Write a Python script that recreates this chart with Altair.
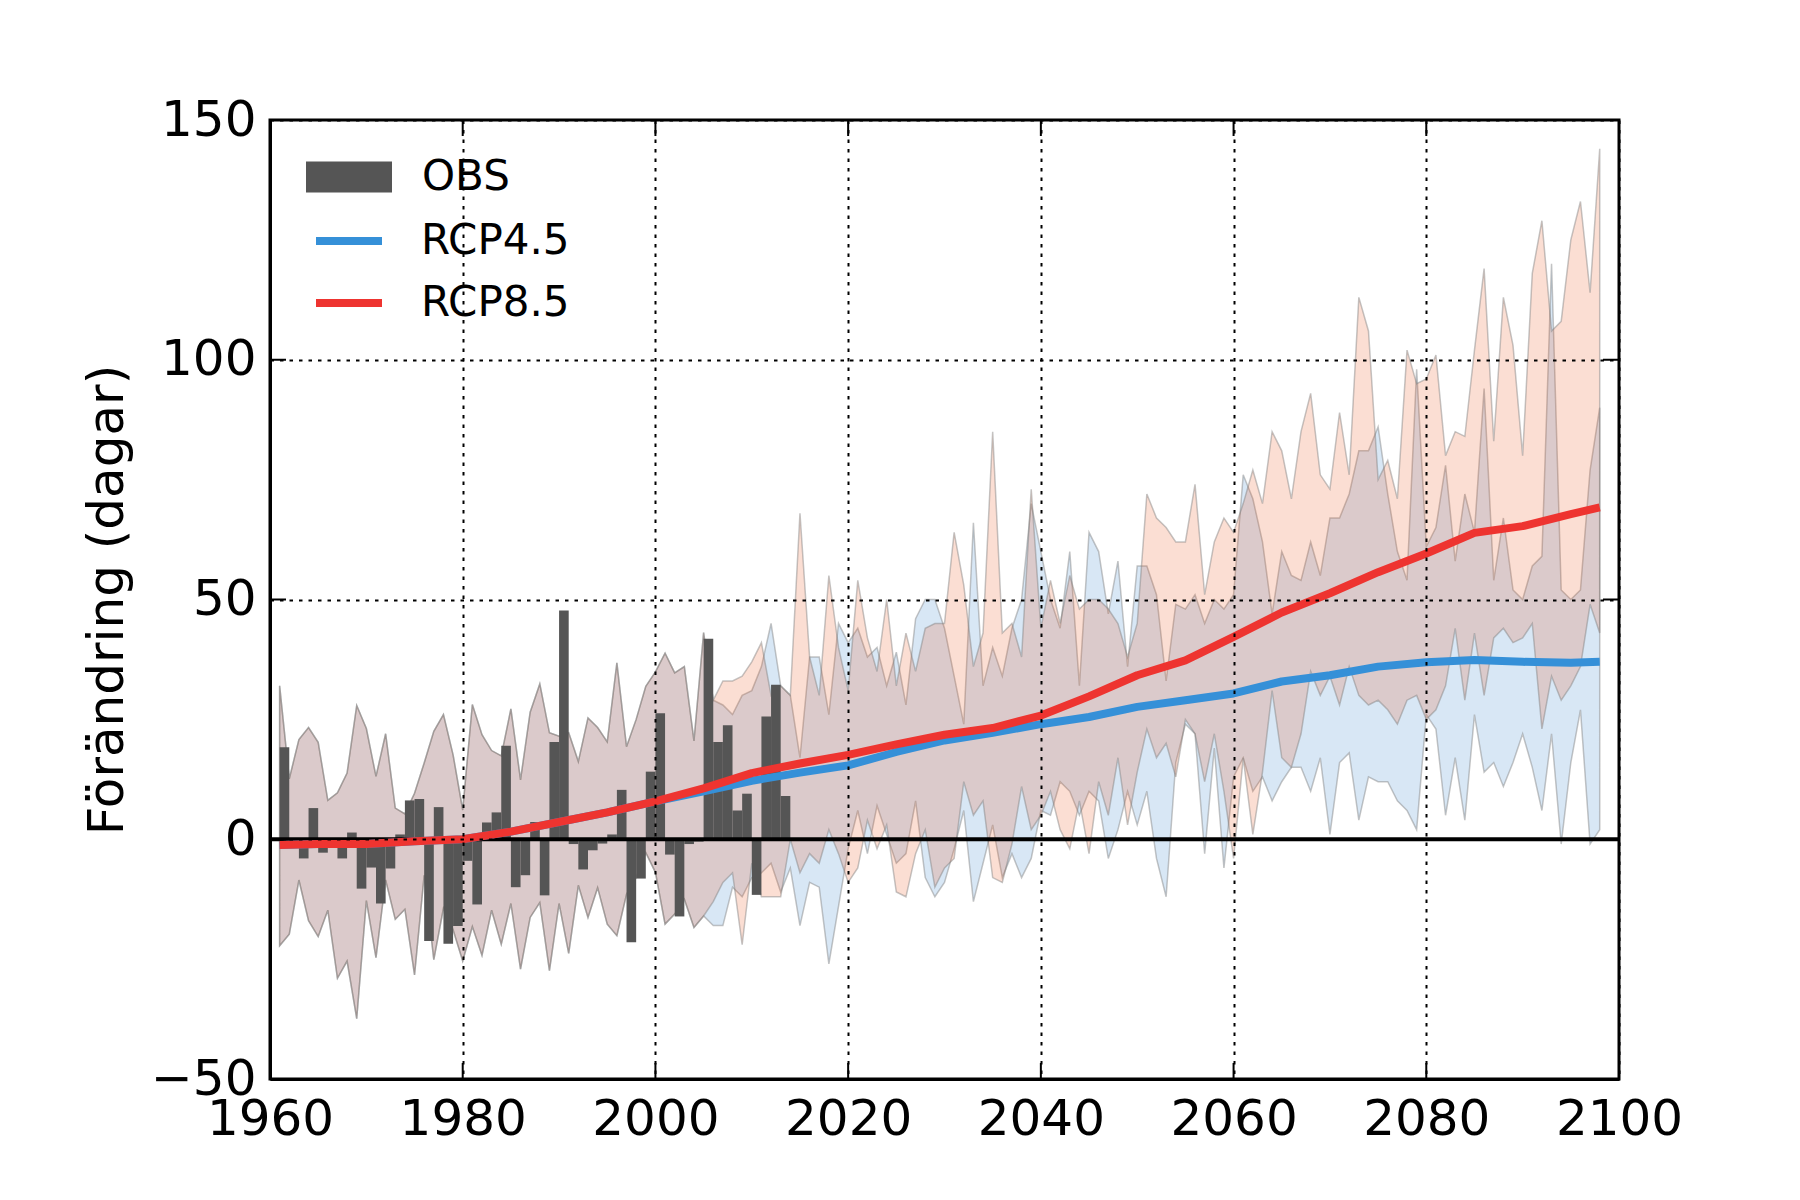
import altair as alt
import pandas as pd

# ---------------- data ----------------
obs_years = list(range(1961, 2014))
obs_vals = [19.2, -1.0, -4.0, 6.5, -2.8, -0.5, -4.0, 1.4, -10.3, -5.9,
            -13.4, -6.1, 1.0, 8.1, 8.4, -21.2, 6.7, -21.8, -18.1, -4.5,
            -13.6, 3.5, 5.6, 19.5, -10.0, -7.5, 3.6, -11.7, 20.3, 47.7,
            -1.0, -6.3, -2.3, -0.9, 1.0, 10.3, -21.5, -8.2, 14.1, 26.3,
            -3.2, -16.1, -1.0, -0.5, 41.8, 20.3, 23.8, 6.0, 9.5, -11.6,
            25.6, 32.2, 9.0]

hist_years = list(range(1961, 2006))
hist_hi = [32.0, 12.6, 20.8, 23.3, 20.2, 8.1, 9.7, 13.8, 27.9, 23.1,
           13.1, 22.0, 6.5, 5.3, 9.6, 15.9, 22.5, 26.0, 17.6, 6.1,
           28.1, 21.8, 18.5, 17.4, 27.2, 12.4, 26.5, 32.4, 22.2, 21.5,
           22.2, 16.2, 25.3, 23.3, 20.3, 36.8, 19.3, 25.0, 31.9, 34.9,
           38.8, 34.7, 36.0, 20.5, 43.1]
hist_lo = [-22.2, -19.8, -8.5, -17.0, -20.3, -14.8, -29.0, -25.4, -37.4, -12.8,
           -24.7, -8.5, -16.7, -14.6, -28.3, -7.5, -25.1, -14.4, -18.9, -25.4,
           -18.2, -24.2, -14.8, -21.9, -13.4, -27.1, -16.3, -13.2, -27.4, -13.4,
           -23.8, -9.6, -16.3, -10.1, -17.7, -20.1, -11.5, -8.0, -2.8, -6.9,
           -17.7, -15.6, -12.5, -18.4, -16.0]

fut_years = list(range(2006, 2099))
r85_hi = [29, 33, 33, 34, 37,
          41, 30, 32, 30, 68, 38, 30, 55, 40, 31,
          54, 42, 35, 50, 32, 43, 35, 44, 45, 45,
          64, 53, 36, 43, 85, 43, 45, 38, 73, 44,
          54, 45, 55, 48, 50, 50, 48, 45, 38, 45,
          72, 67, 65, 62, 62, 74, 51, 62, 67, 64,
          70, 77, 70, 85, 81, 71, 85, 93, 76, 73,
          89, 76, 113, 106, 75, 79, 71, 102, 95, 96,
          101, 80, 85, 84, 102, 119, 83, 113, 103, 80,
          118, 129, 106, 108, 125, 133, 114, 144]
r45_hi = [29, 28, 26, 30, 31,
          36, 45, 32, 30, 17, 38, 38, 26, 45, 41,
          44, 38, 40, 32, 39, 28, 46, 50, 50, 44,
          34, 24, 66, 32, 40, 34, 44, 50, 70, 60,
          50, 44, 60, 32, 64, 60, 47, 58, 36, 57,
          57, 51, 33, 49, 48, 51, 45, 50, 48, 51,
          76, 71, 62, 47, 60, 55, 54, 62, 55, 67,
          67, 72, 81, 81, 86, 72, 60, 54, 98, 61,
          65, 78, 58, 72, 64, 94, 54, 67, 52, 50,
          57, 59, 120, 52, 50, 52, 77, 90]
r85_lo = [-13, -9, -7, -22, -5,
          -12, -12, -12, 0, -7, -3, -5, 2, -3, -9,
          -6, 4, -2, 3, -11, -12, -3, 2, -10, -6,
          -4, 12, 5, 8, -8, -9, -1, 11, 2, 5,
          10, 2, -2, 8, -3, 12, 5, 17, 3, 14,
          23, 17, 20, 13, 25, 22, 12, 22, 10, -4,
          17, 1, 14, 31, 17, 15, 22, 35, 30, 34,
          28, 36, 30, 28, 29, 27, 24, 29, 30, 25,
          27, 32, 44, 29, 43, 30, 42, 44, 41, 42,
          45, 23, 34, 29, 32, 36, 49, 43]
r45_lo = [-18, -18, -10, -12, -8,
          -7, -5, -11, -6, -18, -9, -10, -26, -14, -2,
          6, -3, 7, 1, -5, -3, 8, -8, -12, -9,
          -2, 6, -13, -5, 3, -8, -3, -8, -4, 6,
          5, 12, 10, 5, 10, 8, -4, 2, 10, 3,
          10, -4, -12, 16, 24, 22, -3, 19, -6, 13,
          17, 10, 13, 8, 12, 15, 15, 10, 17, 1,
          16, 18, 4, 13, 12, 12, 8, 6, 2, 26,
          23, 5, 17, 4, 26, 14, 16, 11, 16, 22,
          15, 6, 22, -1, 16, 27, -1, 2]

mean_years = [1961, 1965, 1970, 1975, 1980, 1985, 1990, 1995, 2000, 2005,
              2010, 2015, 2020, 2025, 2030, 2035, 2040, 2045, 2050, 2055,
              2060, 2065, 2070, 2075, 2080, 2085, 2090, 2095, 2098]
r45_mean = [-1.2, -1.0, -1.0, -0.4, 0.0, 1.6, 3.6, 5.6, 7.9, 10.0,
            12.2, 13.9, 15.4, 18.2, 20.6, 22.2, 24.0, 25.5, 27.6, 29.0,
            30.4, 32.9, 34.2, 36.0, 36.9, 37.4, 37.0, 36.8, 37.0]
r85_mean = [-1.2, -1.0, -1.0, -0.4, 0.0, 1.6, 3.6, 5.6, 7.9, 10.6,
            13.8, 15.8, 17.6, 19.8, 21.8, 23.2, 25.8, 29.8, 34.2, 37.3,
            42.2, 47.3, 51.3, 55.7, 59.6, 63.9, 65.3, 67.8, 69.2]

x_ticks = [1960, 1980, 2000, 2020, 2040, 2060, 2080, 2100]
y_ticks = [-50, 0, 50, 100, 150]
series_names = ["OBS", "RCP4.5", "RCP8.5"]
y_title = "Förändring (dagar)"

# ---------------- styling ----------------
W, H = 1349, 959
FONT = "DejaVu Sans"
BLUE = "#3590d8"
RED = "#ee3430"
GREY = "#555555"

band45 = pd.DataFrame({"year": hist_years + fut_years,
                       "lo": hist_lo + r45_lo, "hi": hist_hi + r45_hi})
band85 = pd.DataFrame({"year": hist_years + fut_years,
                       "lo": hist_lo + r85_lo, "hi": hist_hi + r85_hi})
obs = pd.DataFrame({"year": obs_years, "year_end": [y + 1 for y in obs_years],
                    "value": obs_vals, "base": [0] * len(obs_years),
                    "series": [series_names[0]] * len(obs_years)})
means = pd.DataFrame({
    "year": mean_years + mean_years,
    "mean": r45_mean + r85_mean,
    "series": [series_names[1]] * len(mean_years) + [series_names[2]] * len(mean_years),
})
zero_df = pd.DataFrame({"z": [0]})
xt = pd.DataFrame({"v": x_ticks})
yt = pd.DataFrame({"v": y_ticks})

xscale = alt.Scale(domain=[1960, 2100], nice=False, zero=False)
yscale = alt.Scale(domain=[-50, 150], nice=False, zero=False)

grid_kw = dict(grid=True, gridColor="black", gridDash=[3.5, 6], gridWidth=2,
               gridOpacity=1, ticks=False, domain=True, domainColor="black",
               domainWidth=3, labelFont=FONT, labelFontSize=50, labelColor="black",
               labelFlush=False, labelOverlap=False, labelBound=False, zindex=1)

x_axis = alt.Axis(values=x_ticks, format="d", labelPadding=15, **grid_kw)
y_axis = alt.Axis(values=y_ticks, labelPadding=14,
                  labelExpr="datum.value < 0 ? '\u2212' + abs(datum.value) : datum.label",
                  titleFont=FONT, titleFontSize=50,
                  titleFontWeight="normal", titleColor="black", titlePadding=18,
                  **grid_kw)


def X(field, **kw):
    return alt.X(field, scale=xscale, axis=x_axis, title=None, **kw)


def Y(field, **kw):
    return alt.Y(field, scale=yscale, axis=y_axis, title=y_title, **kw)


area_kw = dict(fillOpacity=0.19, stroke="#7f7f7f", strokeOpacity=0.45,
               strokeWidth=1.5, interpolate="linear")

blue_band = alt.Chart(band45).mark_area(fill="#327dc8", **area_kw).encode(
    x=X("year:Q"), y=Y("lo:Q"), y2="hi:Q",
)
orange_band = alt.Chart(band85).mark_area(fill="#eb5014", **area_kw).encode(
    x=X("year:Q"), y=Y("lo:Q"), y2="hi:Q",
)

bars = alt.Chart(obs).mark_rect().encode(
    x=X("year:Q"),
    x2="year_end:Q",
    y=Y("value:Q"),
    y2="base:Q",
    fill=alt.Fill("series:N", scale=alt.Scale(domain=[series_names[0]], range=[GREY]),
                  legend=alt.Legend(title=None, orient="none", legendX=36, legendY=14,
                                    symbolType="M-1,-0.36H1V0.36H-1Z",
                                    symbolSize=7396, symbolStrokeWidth=0,
                                    symbolOpacity=1, labelFont=FONT,
                                    labelFontSize=42, labelColor="black",
                                    labelOffset=30, labelLimit=300, padding=0)),
)

zero_line = alt.Chart(zero_df).mark_rule(color="black", strokeWidth=4).encode(
    y=Y("z:Q")
)

lines = alt.Chart(means).mark_line(strokeWidth=8, strokeJoin="round").encode(
    x=X("year:Q"),
    y=Y("mean:Q"),
    stroke=alt.Stroke("series:N",
                      scale=alt.Scale(domain=series_names[1:], range=[BLUE, RED]),
                      legend=alt.Legend(title=None, orient="none", legendX=42, legendY=84,
                                        symbolType="stroke", symbolSize=4356,
                                        symbolStrokeWidth=8, labelFont=FONT,
                                        labelFontSize=42, labelColor="black",
                                        labelOffset=35, rowPadding=4,
                                        labelLimit=300, padding=0)),
    detail="series:N",
)

TL = 16
tick_bottom = alt.Chart(xt).mark_rule(color="black", strokeWidth=2).encode(
    x=X("v:Q"), y=alt.value(H), y2=alt.value(H - TL))
tick_top = alt.Chart(xt).mark_rule(color="black", strokeWidth=2).encode(
    x=X("v:Q"), y=alt.value(0), y2=alt.value(TL))
tick_left = alt.Chart(yt).mark_rule(color="black", strokeWidth=2).encode(
    y=Y("v:Q"), x=alt.value(0), x2=alt.value(TL))
tick_right = alt.Chart(yt).mark_rule(color="black", strokeWidth=2).encode(
    y=Y("v:Q"), x=alt.value(W), x2=alt.value(W - TL))

chart = alt.layer(
    blue_band, orange_band, bars, zero_line, lines,
    tick_bottom, tick_top, tick_left, tick_right,
).resolve_scale(fill="independent", stroke="independent").properties(
    width=W, height=H,
    autosize=alt.AutoSizeParams(type="none"),
    padding={"left": 262, "top": 112, "right": 160, "bottom": 100},
    background="white",
).configure(font=FONT).configure_view(stroke="black", strokeWidth=3)

chart.save("out.html", embed_options={"renderer": "svg", "actions": False})
